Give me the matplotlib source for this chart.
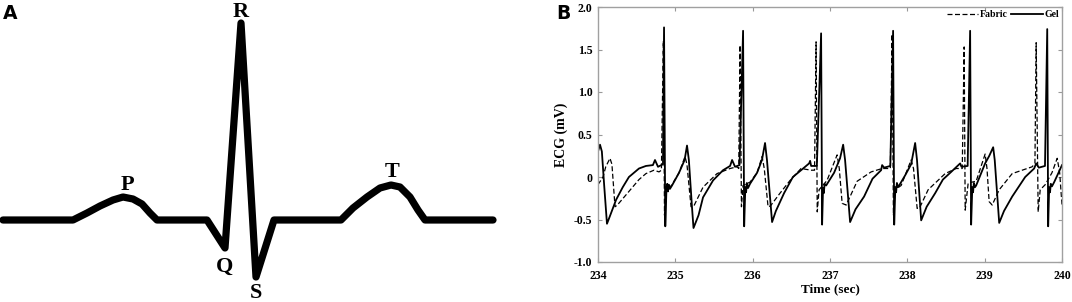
import matplotlib.pyplot as plt

# panel A: schematic ECG beat (x position, amplitude above baseline)
schem_x = [3, 73, 87, 100, 113, 123, 133, 142, 150, 157, 207, 225, 241, 256, 274,
           341, 353, 367, 380, 391, 400, 410, 418, 425, 493]
schem_y = [0, 0, 7, 14, 20, 23, 21, 16, 7, 0, 0, -28, 197, -57, 0,
           0, 12, 23, 32, 35, 33, 23, 10, 0, 0]
wave_names = ['P', 'Q', 'R', 'S', 'T']
wave_x = [127, 225, 241, 256, 392]
wave_y = [35, -47, 208, -73, 48]

# panel B: recorded ECG, time offset from 234 s and value in mV
gel_t = [0.0, 0.026, 0.05, 0.08, 0.116, 0.15, 0.233, 0.32, 0.40, 0.53, 0.62, 0.71, 0.737, 0.776, 0.84,
         0.854, 0.87, 0.885, 0.895, 0.905, 0.915, 0.93, 0.957, 1.048, 1.12, 1.151, 1.175, 1.215, 1.235,
         1.30, 1.358, 1.488, 1.617, 1.708, 1.734, 1.772, 1.83,
         1.876, 1.89, 1.905, 1.915, 1.925, 1.94, 1.966, 2.057, 2.12, 2.16, 2.185, 2.251,
         2.30, 2.406, 2.52, 2.626, 2.73, 2.743, 2.756, 2.83,
         2.885, 2.898, 2.91, 2.92, 2.93, 2.95, 3.053, 3.13, 3.17, 3.195, 3.26,
         3.33, 3.441, 3.55, 3.661, 3.674, 3.70, 3.78,
         3.816, 3.83, 3.845, 3.855, 3.865, 3.88, 3.907, 3.972, 4.049, 4.101, 4.125, 4.179,
         4.25, 4.36, 4.46, 4.567, 4.683, 4.70, 4.78,
         4.812, 4.825, 4.84, 4.85, 4.86, 4.875, 4.89, 5.006, 5.06, 5.11, 5.13, 5.188,
         5.25, 5.356, 5.524, 5.64, 5.666, 5.70, 5.78,
         5.809, 5.821, 5.834, 5.845, 5.855, 5.87, 5.899, 5.96, 6.0]
gel_v = [0.30, 0.38, 0.30, -0.10, -0.55, -0.47, -0.27, -0.12, 0.0, 0.10, 0.13, 0.14, 0.20, 0.12, 0.15,
         1.76, -0.58, -0.15, -0.08, -0.17, -0.09, -0.14, -0.10, 0.05, 0.20, 0.37, 0.20, -0.35, -0.60,
         -0.45, -0.24, -0.04, 0.08, 0.13, 0.20, 0.12, 0.14,
         1.72, -0.58, -0.12, -0.18, -0.07, -0.13, -0.08, 0.05, 0.20, 0.40, 0.20, -0.53,
         -0.40, -0.19, 0.0, 0.08, 0.16, 0.19, 0.13, 0.13,
         1.69, -0.56, -0.13, -0.19, -0.08, -0.10, 0.05, 0.22, 0.38, 0.20, -0.53,
         -0.38, -0.23, -0.02, 0.08, 0.14, 0.11, 0.13,
         1.72, -0.56, -0.12, -0.18, -0.07, -0.12, -0.08, 0.02, 0.15, 0.40, 0.20, -0.51,
         -0.35, -0.19, -0.03, 0.06, 0.16, 0.12, 0.13,
         1.72, -0.56, -0.12, -0.18, -0.07, -0.12, -0.10, 0.16, 0.25, 0.35, 0.20, -0.54,
         -0.40, -0.23, 0.0, 0.10, 0.16, 0.11, 0.13,
         1.74, -0.58, -0.12, -0.18, -0.08, -0.11, -0.06, 0.06, 0.14]

fabric_t = [0.0, 0.065, 0.10, 0.155, 0.18, 0.22, 0.25, 0.40, 0.53, 0.62, 0.724, 0.789, 0.82,
            0.845, 0.86, 0.88, 0.95, 1.048, 1.125, 1.15, 1.203, 1.24, 1.358, 1.539, 1.708, 1.798, 1.82,
            1.837, 1.855, 1.875, 1.966, 2.057, 2.122, 2.15, 2.199, 2.23, 2.354, 2.484, 2.626, 2.756, 2.80,
            2.82, 2.835, 2.859, 2.962, 3.092, 3.12, 3.157, 3.209, 3.351, 3.532, 3.674, 3.78,
            3.803, 3.82, 3.84, 3.92, 4.049, 4.08, 4.127, 4.16, 4.269, 4.489, 4.631, 4.71,
            4.735, 4.748, 4.787, 4.89, 5.006, 5.03, 5.058, 5.097, 5.188, 5.356, 5.485, 5.614, 5.65,
            5.666, 5.692, 5.718, 5.783, 5.87, 5.938, 5.97, 6.0]
fabric_v = [-0.09, 0.0, 0.12, 0.22, 0.15, -0.35, -0.33, -0.17, -0.03, 0.04, 0.08, 0.06, 0.08,
            1.60, -0.45, -0.15, -0.10, 0.05, 0.24, 0.15, -0.35, -0.34, -0.12, 0.04, 0.10, 0.12, 0.10,
            1.55, -0.35, -0.10, -0.06, 0.05, 0.24, 0.10, -0.35, -0.34, -0.19, -0.04, 0.10, 0.08, 0.08,
            1.59, -0.41, -0.15, -0.04, 0.26, 0.10, -0.31, -0.33, -0.05, 0.06, 0.10, 0.10,
            1.68, -0.45, -0.15, -0.10, 0.20, 0.10, -0.37, -0.36, -0.15, 0.04, 0.10, 0.10,
            1.53, -0.39, -0.07, -0.05, 0.27, 0.10, -0.29, -0.33, -0.15, 0.04, 0.08, 0.12, 0.16,
            1.58, -0.41, -0.15, -0.09, 0.05, 0.22, 0.05, -0.33]

t0 = 234
x_ticks = [234, 235, 236, 237, 238, 239, 240]
y_ticks = [-1.0, -0.5, 0, 0.5, 1.0, 1.5, 2.0]
y_tick_labels = ['-1.0', '-0.5', '0', '0.5', '1.0', '1.5', '2.0']

serif = 'Liberation Serif'

fig = plt.figure(figsize=(10.72, 3.02), dpi=100)

# ---- panel A ----
ax_a = fig.add_axes([0, 0, 500 / 1072, 1])
ax_a.plot(schem_x, schem_y, color='black', linewidth=5.2,
          solid_joinstyle='round', solid_capstyle='round')
for name, x, y in zip(wave_names, wave_x, wave_y):
    ax_a.text(x, y, name, ha='center', va='center', fontsize=16,
              fontweight='bold', family=serif)
ax_a.set_xlim(0, 500)
ax_a.set_ylim(-82, 220)
ax_a.axis('off')

fig.text(3 / 1072, 1 - 4 / 302, 'A', fontsize=13.5, fontweight='bold',
         ha='left', va='top', family='DejaVu Sans')
fig.text(556 / 1072, 1 - 4 / 302, 'B', fontsize=13.5, fontweight='bold',
         ha='left', va='top', family='DejaVu Sans')

# ---- panel B ----
ax_b = fig.add_axes([598 / 1072, 40 / 302, 464 / 1072, 255 / 302])
ax_b.plot([t0 + t for t in fabric_t], fabric_v, color='black', linestyle='--',
          linewidth=0.9, dashes=(4, 2), label='Fabric')
ax_b.plot([t0 + t for t in gel_t], gel_v, color='black', linewidth=1.3, label='Gel')

ax_b.set_xlim(234, 240)
ax_b.set_ylim(-1.0, 2.0)
ax_b.set_xticks(x_ticks)
ax_b.set_xticklabels([str(x) for x in x_ticks])
ax_b.set_yticks(y_ticks)
ax_b.set_yticklabels(y_tick_labels)
ax_b.tick_params(direction='in', length=3, color='#999999', top=True, right=True,
                 labelsize=8.5)
ax_b.tick_params(axis='x', pad=6)
ax_b.tick_params(axis='y', pad=4)
for lbl in ax_b.get_xticklabels() + ax_b.get_yticklabels():
    lbl.set_family(serif)
    lbl.set_fontweight('bold')
for sp in ax_b.spines.values():
    sp.set_color('#a0a0a0')
    sp.set_linewidth(1.0)

ax_b.set_xlabel('Time (sec)', family=serif, fontweight='bold', fontsize=9.5, labelpad=1)
ax_b.set_ylabel('ECG (mV)', family=serif, fontweight='bold', fontsize=10, labelpad=4)

ax_b.legend(loc='upper right', ncol=2, frameon=False,
            prop={'family': serif, 'weight': 'bold', 'size': 7},
            handlelength=3.2, handletextpad=0.2, columnspacing=0.4,
            borderaxespad=0.2, borderpad=0.1)

fig.savefig('out.png', dpi=100)
